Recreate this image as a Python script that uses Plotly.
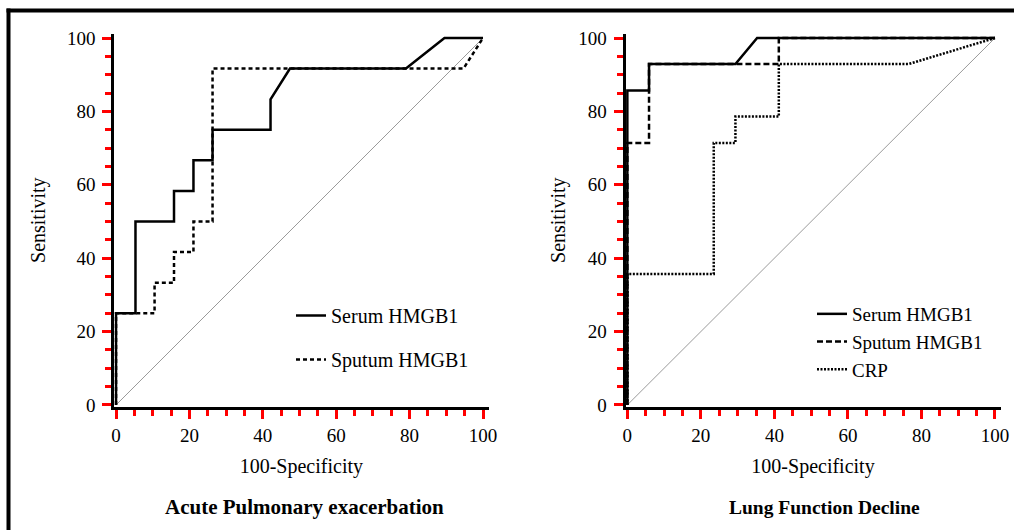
import plotly.graph_objects as go

# ---- Data ----
# Acute Pulmonary exacerbation
ape_serum_x = [0, 0, 5.3, 5.3, 15.8, 15.8, 21.1, 21.1, 26.3, 26.3, 42.1, 42.1, 47.4, 79.0, 89.5, 100]
ape_serum_y = [0, 25, 25, 50, 50, 58.3, 58.3, 66.7, 66.7, 75, 75, 83.3, 91.7, 91.7, 100, 100]
ape_sputum_x = [0, 0, 10.5, 10.5, 15.8, 15.8, 21.1, 21.1, 26.3, 26.3, 94.7, 100]
ape_sputum_y = [0, 25, 25, 33.3, 33.3, 41.7, 41.7, 50, 50, 91.7, 91.7, 100]

# Lung Function Decline
lfd_serum_x = [0, 0, 5.9, 5.9, 29.4, 35.3, 100]
lfd_serum_y = [0, 85.7, 85.7, 92.9, 92.9, 100, 100]
lfd_sputum_x = [0, 0, 5.9, 5.9, 41.2, 41.2, 100]
lfd_sputum_y = [0, 71.4, 71.4, 92.9, 92.9, 100, 100]
lfd_crp_x = [0, 0, 23.5, 23.5, 29.4, 29.4, 41.2, 41.2, 76.5, 100]
lfd_crp_y = [0, 35.7, 35.7, 71.4, 71.4, 78.6, 78.6, 92.9, 92.9, 100]

diag = [0, 100]
major_ticks = [0, 20, 40, 60, 80, 100]
minor_ticks = [5, 10, 15, 25, 30, 35, 45, 50, 55, 65, 70, 75, 85, 90, 95]

panel_titles = ["Acute Pulmonary exacerbation", "Lung Function Decline"]
x_title = "100-Specificity"
y_title = "Sensitivity"

FONT = "Liberation Serif"
LW = 2.5
TICKC = "red"  # diagnostic colour to check tick visibility

W, H = 1014, 530


def px(x):
    return x / W


def py(y):
    return 1 - y / H


fig = go.Figure()

fig.add_trace(go.Scatter(x=diag, y=diag, mode="lines", line=dict(color="#9a9a9a", width=1),
                         showlegend=False, xaxis="x", yaxis="y", hoverinfo="skip"))
fig.add_trace(go.Scatter(x=ape_serum_x, y=ape_serum_y, mode="lines", name="Serum HMGB1",
                         line=dict(color="black", width=LW), xaxis="x", yaxis="y",
                         legend="legend", legendgroup="a1"))
fig.add_trace(go.Scatter(x=ape_sputum_x, y=ape_sputum_y, mode="lines", name="Sputum HMGB1",
                         line=dict(color="black", width=LW, dash="4px,3px"), xaxis="x", yaxis="y",
                         legend="legend", legendgroup="a2"))

fig.add_trace(go.Scatter(x=diag, y=diag, mode="lines", line=dict(color="#9a9a9a", width=1),
                         showlegend=False, xaxis="x2", yaxis="y2", hoverinfo="skip"))
fig.add_trace(go.Scatter(x=lfd_serum_x, y=lfd_serum_y, mode="lines", name="Serum HMGB1",
                         line=dict(color="black", width=LW), xaxis="x2", yaxis="y2",
                         legend="legend2"))
fig.add_trace(go.Scatter(x=lfd_sputum_x, y=lfd_sputum_y, mode="lines", name="Sputum HMGB1",
                         line=dict(color="black", width=LW, dash="6px,3px"), xaxis="x2", yaxis="y2",
                         legend="legend2"))
fig.add_trace(go.Scatter(x=lfd_crp_x, y=lfd_crp_y, mode="lines", name="CRP",
                         line=dict(color="black", width=LW, dash="2px,1.5px"), xaxis="x2", yaxis="y2",
                         legend="legend2"))

xr = [-0.5, 101.5]
yr = [-0.5, 101.2]


def xaxis_cfg(dom, anchor):
    return dict(domain=dom, anchor=anchor, range=xr, tickmode="array", tickvals=major_ticks,
                showgrid=False, zeroline=False, showline=True, linecolor="black", linewidth=3,
                ticks="outside", ticklen=9, tickwidth=2.5, tickcolor=TICKC, automargin=False,
                minor=dict(ticks="outside", ticklen=6, tickwidth=2.5, tickcolor=TICKC,
                           tickmode="array", tickvals=minor_ticks),
                tickfont=dict(family=FONT, size=19, color="black"),
                title=dict(text=x_title, font=dict(family=FONT, size=20, color="black"), standoff=15),
                fixedrange=True)


def yaxis_cfg(dom, anchor, standoff):
    return dict(domain=dom, anchor=anchor, range=yr, tickmode="array", tickvals=major_ticks,
                showgrid=False, zeroline=False, showline=True, linecolor="black", linewidth=3,
                ticks="outside", ticklen=9, tickwidth=2.5, tickcolor=TICKC, automargin=False,
                minor=dict(ticks="outside", ticklen=6, tickwidth=2.5, tickcolor=TICKC,
                           tickmode="array", tickvals=minor_ticks),
                tickfont=dict(family=FONT, size=19, color="black"),
                ticklabelstandoff=3,
                title=dict(text=y_title, font=dict(family=FONT, size=20, color="black"), standoff=standoff),
                fixedrange=True)


fig.update_layout(
    width=W, height=H,
    margin=dict(l=0, r=0, t=0, b=0, autoexpand=False),
    paper_bgcolor="white", plot_bgcolor="white",
    font=dict(family=FONT, color="black"),
    xaxis=xaxis_cfg([px(114.2), px(488.5)], "y"),
    yaxis=yaxis_cfg([py(406.8), py(33.6)], "x", 16),
    xaxis2=xaxis_cfg([px(625.5), px(1000.5)], "y2"),
    yaxis2=yaxis_cfg([py(406.8), py(33.6)], "x2", 8),
    legend=dict(x=px(291), y=py(296), xanchor="left", yanchor="top",
                font=dict(family=FONT, size=20, color="black"), bgcolor="rgba(0,0,0,0)",
                tracegroupgap=15, itemwidth=30),
    legend2=dict(x=px(812), y=py(295), xanchor="left", yanchor="top",
                 font=dict(family=FONT, size=19, color="black"), bgcolor="rgba(0,0,0,0)",
                 tracegroupgap=0, itemwidth=30),
    showlegend=True,
    annotations=[
        dict(text="<b>" + panel_titles[0] + "</b>", x=px(304), y=py(507), xref="paper", yref="paper",
             showarrow=False, font=dict(family=FONT, size=21, color="black"), xanchor="center", yanchor="middle"),
        dict(text="<b>" + panel_titles[1] + "</b>", x=px(824), y=py(507), xref="paper", yref="paper",
             showarrow=False, font=dict(family=FONT, size=19.5, color="black"), xanchor="center", yanchor="middle"),
    ],
    shapes=[
        dict(type="line", xref="paper", yref="paper", x0=px(8.5), x1=px(8.5), y0=0, y1=py(8.5),
             line=dict(color="black", width=4)),
        dict(type="line", xref="paper", yref="paper", x0=px(6.5), x1=1, y0=py(10.5), y1=py(10.5),
             line=dict(color="black", width=4)),
    ],
)

fig.write_html(
    "out.html",
    config={"displayModeBar": False},
    post_script="document.body.style.margin='0';document.body.style.overflow='hidden';"
                "document.documentElement.style.overflow='hidden';",
)
